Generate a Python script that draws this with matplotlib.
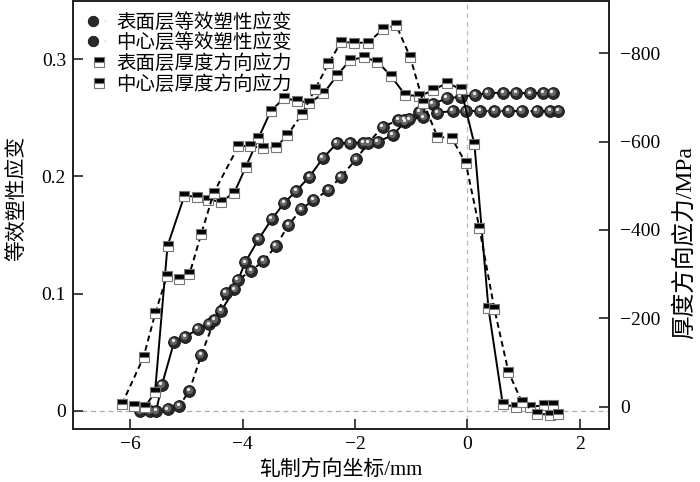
import matplotlib
matplotlib.use('Agg')
import matplotlib.pyplot as plt
from matplotlib.lines import Line2D
from matplotlib.transforms import offset_copy
from matplotlib.legend_handler import HandlerTuple

plt.rcParams['font.family'] = ['Liberation Serif', 'Noto Sans CJK SC']
plt.rcParams['axes.unicode_minus'] = True

# ---------------- data ----------------
legend_labels = ['表面层等效塑性应变', '中心层等效塑性应变', '表面层厚度方向应力', '中心层厚度方向应力']
x_label = '轧制方向坐标/mm'
y_left_label = '等效塑性应变'
y_right_label = '厚度方向应力/MPa'

surf_strain_x = [-5.836, -5.646, -5.539, -5.438, -5.219, -5.023, -4.797, -4.596, -4.383, -4.146,
                 -3.956, -3.719, -3.480, -3.262, -3.048, -2.811, -2.573, -2.324, -2.087, -1.851,
                 -1.594, -1.327, -1.109, -0.854, -0.616, -0.367, -0.117, 0.137, 0.368, 0.641,
                 0.867, 1.116, 1.352, 1.520]
surf_strain_y = [0.0, 0.0, 0.0, 0.0219, 0.0589, 0.0631, 0.0695, 0.0737, 0.0851, 0.1036,
                 0.1266, 0.1462, 0.1636, 0.1772, 0.1875, 0.1997, 0.2154, 0.2282, 0.2287, 0.2287,
                 0.2295, 0.2352, 0.2466, 0.2551, 0.2617, 0.2666, 0.2679, 0.2694, 0.2711, 0.2713,
                 0.2713, 0.2708, 0.2713, 0.2713]

cent_strain_x = [-5.331, -5.130, -4.947, -4.738, -4.502, -4.299, -4.085, -3.849, -3.630, -3.409,
                 -3.185, -2.959, -2.740, -2.473, -2.253, -1.980, -1.762, -1.505, -1.228, -1.126,
                 -1.032, -0.783, -0.534, -0.260, -0.023, 0.226, 0.480, 0.730, 0.968, 1.235,
                 1.472, 1.619]
cent_strain_y = [0.0012, 0.0040, 0.0171, 0.0475, 0.0774, 0.1007, 0.1115, 0.1195, 0.1277, 0.1405,
                 0.1584, 0.1718, 0.1798, 0.1883, 0.1997, 0.2145, 0.2287, 0.2423, 0.2480, 0.2480,
                 0.2486, 0.2503, 0.2543, 0.2557, 0.2557, 0.2557, 0.2557, 0.2557, 0.2557, 0.2557,
                 0.2557, 0.2557]

surf_stress_x = [-5.943, -5.735, -5.560, -5.338, -5.036, -4.815, -4.609, -4.391, -4.151, -3.943,
                 -3.719, -3.498, -3.262, -3.036, -2.811, -2.562, -2.313, -2.087, -1.838, -1.601,
                 -1.363, -1.109, -0.854, -0.616, -0.367, -0.117, 0.125, 0.374, 0.630, 0.867,
                 1.121, 1.370, 1.520]
surf_stress_y = [-2, 0, -33, -364, -478, -475, -469, -464, -484, -543,
                 -608, -670, -698, -693, -688, -709, -751, -785, -791, -781,
                 -749, -706, -703, -716, -733, -719, -594, -223, -5, 0,
                 0, -3, -3]

cent_stress_x = [-6.149, -5.765, -5.557, -5.349, -5.142, -4.947, -4.738, -4.516, -4.075, -3.867,
                 -3.630, -3.404, -3.203, -2.947, -2.710, -2.473, -2.247, -2.016, -1.772, -1.505,
                 -1.269, -1.020, -0.783, -0.534, -0.278, -0.028, 0.214, 0.480, 0.730, 0.968,
                 1.231, 1.472, 1.619]
cent_stress_y = [-6, -112, -211, -296, -288, -300, -391, -484, -590, -590,
                 -585, -587, -615, -662, -719, -777, -826, -824, -824, -854,
                 -864, -792, -688, -611, -608, -551, -404, -221, -79, -11,
                 16, 18, 16]

x_ticks = [-6, -4, -2, 0, 2]
x_tick_labels = ['\u22126', '\u22124', '\u22122', '0', '2']
left_ticks = [0, 0.1, 0.2, 0.3]
left_tick_labels = ['0', '0.1', '0.2', '0.3']
right_ticks = [0, -200, -400, -600, -800]
right_tick_labels = ['0', '\u2212200', '\u2212400', '\u2212600', '\u2212800']

# ---------------- figure ----------------
fig = plt.figure(figsize=(7.0, 4.82), dpi=100)
ax = fig.add_axes([0.10429, 0.10996, 0.76571, 0.88797])
ax2 = ax.twinx()

ax.set_xlim(-7.02, 2.52)
ax.set_ylim(-0.0156, 0.3496)
ax2.set_ylim(50.5, -918.4)

spine_c = '#222222'
for a in (ax, ax2):
    for s in a.spines.values():
        s.set_color(spine_c)
        s.set_linewidth(1.3)

# reference lines
ax.axhline(0, color='#aaaaaa', lw=0.9, ls=(0, (4, 3)), zorder=1)
ax.axvline(0, color='#bbbbbb', lw=0.9, ls=(0, (4, 3)), zorder=1)


def sphere_series(axis, xs, ys, ls):
    axis.plot(xs, ys, color='black', lw=1.4, ls=ls, marker='o', ms=8.5,
              mfc='#2a2a2a', mec='#111111', mew=0.6, zorder=3)
    t1 = offset_copy(axis.transData, fig=fig, x=-0.8, y=0.9, units='dots')
    axis.plot(xs, ys, ls='none', marker='o', ms=5.2, mfc='#666666', mec='none',
              transform=t1, zorder=4)
    t2 = offset_copy(axis.transData, fig=fig, x=-1.6, y=1.8, units='dots')
    axis.plot(xs, ys, ls='none', marker='o', ms=2.3, mfc='#eeeeee', mec='none',
              transform=t2, zorder=5)


def square_series(axis, xs, ys, ls):
    axis.plot(xs, ys, color='black', lw=1.4, ls=ls, marker='s', ms=7,
              fillstyle='top', mfc='black', mfcalt='white', mec='#777777', mew=0.8,
              zorder=3)


sphere_series(ax, surf_strain_x, surf_strain_y, '-')
sphere_series(ax, cent_strain_x, cent_strain_y, (0, (3, 2)))
square_series(ax2, surf_stress_x, surf_stress_y, '-')
square_series(ax2, cent_stress_x, cent_stress_y, (0, (3, 2)))

# ticks
ax.set_xticks(x_ticks)
ax.set_xticklabels(x_tick_labels)
ax.set_yticks(left_ticks)
ax.set_yticklabels(left_tick_labels)
ax2.set_yticks(right_ticks)
ax2.set_yticklabels(right_tick_labels)

ax.tick_params(axis='both', direction='in', length=7, width=1.2, color=spine_c,
               labelsize=14, top=False, right=False)
ax.tick_params(axis='x', pad=5)
ax.tick_params(axis='y', pad=5)
ax2.tick_params(axis='y', direction='in', length=7, width=1.2, color=spine_c,
                labelsize=14, pad=8)

# labels
ax.set_xlabel(x_label, fontsize=15)
ax.xaxis.set_label_coords(0.5, -0.072)
ax.set_ylabel(y_left_label, fontsize=15, va='center')
ax.yaxis.set_label_coords(-0.104, 0.54)
ax2.set_ylabel(y_right_label, fontsize=17, va='center', rotation=90)
ax2.yaxis.set_label_coords(1.141, 0.435)

# legend (markers only)
def sphere_handle():
    return (Line2D([], [], ls='none', marker='o', ms=7.5, mfc='#2a2a2a', mec='#111111', mew=0.6),
            Line2D([], [], ls='none', marker='o', ms=2.2, mfc='#eeeeee', mec='none'))


def square_handle():
    return Line2D([], [], ls='none', marker='s', ms=6.5, fillstyle='top', mfc='black',
                  mfcalt='white', mec='#777777', mew=0.8)


handles = [sphere_handle(), sphere_handle(), square_handle(), square_handle()]
leg = ax2.legend(handles, legend_labels, handler_map={tuple: HandlerTuple(ndivide=None)},
                 loc='upper left', bbox_to_anchor=(0.012, 1.0), frameon=False, fontsize=14,
                 handlelength=0.8, handletextpad=0.5, labelspacing=0.1, borderaxespad=0.2)

fig.savefig('out.png', dpi=100)
